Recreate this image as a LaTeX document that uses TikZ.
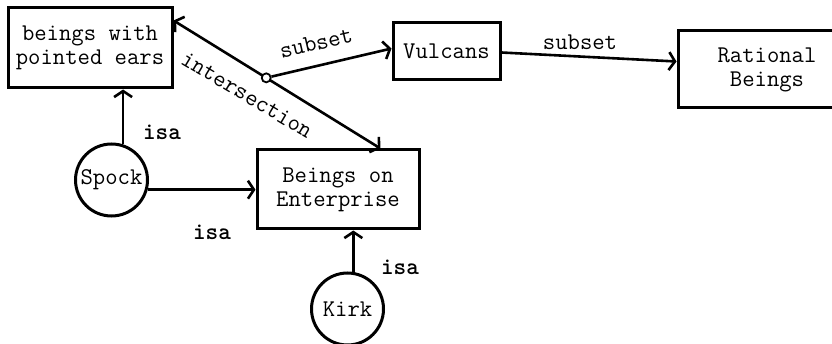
\documentclass[tikz,border=0pt]{standalone}
\usetikzlibrary{arrows.meta,calc}
\begin{document}
\begin{tikzpicture}[x=1pt,y=-1pt,
  font=\ttfamily\fontsize{24}{24}\selectfont,
  box/.style={draw, line width=3pt, align=center, inner sep=0pt},
  circ/.style={circle, draw, line width=3pt, minimum size=72pt, inner sep=0pt},
  tip/.tip={Straight Barb[length=6pt,width=18pt]},
  conn/.style={line width=2.6pt, -tip},
  lbl/.style={inner sep=0pt},
  isalbl/.style={inner sep=0pt, font=\ttfamily\bfseries\fontsize{24}{24}\selectfont}]
\useasboundingbox (0,0) rectangle (832,344);
\clip (0,0) rectangle (832,344);
% nodes
\node[box, minimum width=164pt, minimum height=80pt] (ears) at (90,48) {beings with\\pointed ears};
\node[box, minimum width=107pt, minimum height=57pt] (vul) at (446.5,51.5) {Vulcans};
\node[box, minimum width=178pt, minimum height=77pt] (rat) at (767,69.5) {Rational\\Beings};
\node[box, minimum width=162pt, minimum height=79pt] (ent) at (338,189.5) {Beings on\\Enterprise};
\node[circ] (spock) at (111.5,180) {Spock};
\node[circ] (kirk) at (347.5,309) {Kirk};
% connectors
\draw[conn] (spock.72) -- (spock.72 |- ears.south);
\draw[conn] (spock.-15) -- (spock.-15 -| ent.west);
\draw[conn] (kirk.81) -- (kirk.81 |- ent.south);
\coordinate (iA) at ($(ears.north east)+(0,14)$);
\coordinate (iB) at ($(ent.north west)+(125,0)$);
\draw[line width=2.6pt, tip-tip] (iA) -- (iB) coordinate[pos=0.448] (junc);
\node[circle, draw, fill=white, line width=1.8pt, inner sep=0pt, minimum size=9pt] (jc) at (junc) {};
\coordinate (vulin) at ($(vul.west)+(0,-3)$);
\draw[conn] (jc) -- (vulin);
\coordinate (vulout) at ($(vul.east)+(0,1)$);
\coordinate (ratin) at ($(rat.west)+(0,-8)$);
\draw[conn] (vulout) -- (ratin);
% labels
\node[lbl, rotate=13] (l1) at (316,43) {subset};
\node[lbl] (l2) at (580,42) {subset};
\node[lbl, rotate=-30.7] (l3) at (247,95) {intersection};
\node[isalbl] (i1) at (162,132) {isa};
\node[isalbl] (i2) at (212,232) {isa};
\node[isalbl] (i3) at (400,267) {isa};
\end{tikzpicture}
\end{document}
